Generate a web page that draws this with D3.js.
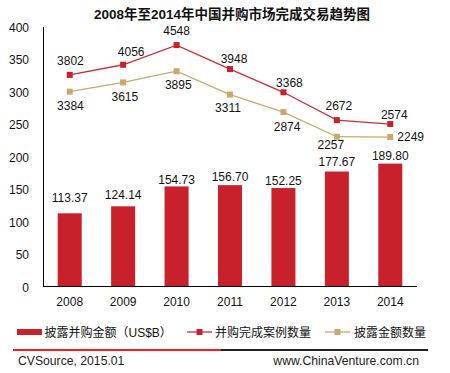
<!DOCTYPE html>
<html><head><meta charset="utf-8">
<script src="https://cdn.jsdelivr.net/npm/d3@7"></script>
<style>body{margin:0;background:#fff}svg{display:block}text{font-family:"Liberation Sans",Arial,"Noto Sans CJK SC",sans-serif;fill:#111}</style>
</head><body><svg id="c" width="450" height="373"></svg>
<script>
const years = ["2008","2009","2010","2011","2012","2013","2014"];
const amount = [113.37,124.14,154.73,156.70,152.25,177.67,189.80];
const deals = [3802,4056,4548,3948,3368,2672,2574];
const disclosed = [3384,3615,3895,3311,2874,2257,2249];
const leftTicks = [0,50,100,150,200,250,300,350,400];
const title = "2008年至2014年中国并购市场完成交易趋势图";
const legendNames = ["披露并购金额（US$B）","并购完成案例数量","披露金额数量"];

// label placement tweaks (layout only)
const barLabelDy = [-11.7,-7.2,-2.7,-3.7,-2.7,-5.7,-3.2];
const dealLabelDx = [0.7,8,0,4,6,2,4];
const dealLabelDy = [-9.7,-9,-10.2,-6.3,-5.2,-9.7,-4.7];
const discLabelDx = [0.7,1.7,1.7,-2,3.7,-6,7];
const discLabelDy = [18.3,18.7,17.3,17,19,12.3,4.3];

const RED = "#c9212b", TAN = "#c8a96b", LRED = "#d42a33";
const svg = d3.select("#c");
const x = d3.scaleBand().domain(years).range([43,417]).paddingInner(0.55).paddingOuter(0.275);
const y = d3.scaleLinear().domain([0,400]).range([287,27]);
const y2 = d3.scaleLinear().domain([-1500,5000]).range([287,27]);
const cx = d => x(d) + x.bandwidth()/2;

svg.append("text").attr("x",232).attr("y",19).attr("text-anchor","middle")
  .style("font-size","13.5px").style("font-weight","bold").text(title);

svg.append("g").selectAll("text").data(leftTicks).join("text")
  .attr("x",29).attr("y",d=>y(d)+4.5).attr("text-anchor","end").style("font-size","12px").text(d=>d);

svg.append("g").selectAll("rect").data(amount).join("rect")
  .attr("x",(d,i)=>x(years[i])).attr("width",x.bandwidth())
  .attr("y",d=>y(d)).attr("height",d=>y(0)-y(d)).attr("fill",RED);
svg.append("g").selectAll("text").data(amount).join("text")
  .attr("x",(d,i)=>cx(years[i])).attr("y",(d,i)=>y(d)+barLabelDy[i]).attr("text-anchor","middle")
  .style("font-size","12px").text(d=>d.toFixed(2));

svg.append("line").attr("x1",43.5).attr("x2",43.5).attr("y1",27).attr("y2",287).attr("stroke","#000");
svg.append("line").attr("x1",43).attr("x2",417).attr("y1",286.5).attr("y2",286.5).attr("stroke","#000");
svg.append("g").selectAll("text").data(years).join("text")
  .attr("x",d=>cx(d)).attr("y",306).attr("text-anchor","middle").style("font-size","12px").text(d=>d);

const line = (arr,ys) => d3.line().x((d,i)=>cx(years[i])).y(d=>ys(d))(arr);
svg.append("path").attr("d",line(disclosed,y2)).attr("fill","none").attr("stroke",TAN).attr("stroke-width",1.3);
svg.append("path").attr("d",line(deals,y2)).attr("fill","none").attr("stroke",LRED).attr("stroke-width",1.3);
svg.append("g").selectAll("rect").data(disclosed).join("rect")
  .attr("x",(d,i)=>cx(years[i])-3).attr("y",d=>y2(d)-3).attr("width",6).attr("height",6).attr("fill",TAN);
svg.append("g").selectAll("rect").data(deals).join("rect")
  .attr("x",(d,i)=>cx(years[i])-3).attr("y",d=>y2(d)-3).attr("width",6).attr("height",6).attr("fill",RED);

svg.append("g").selectAll("text").data(deals).join("text")
  .attr("x",(d,i)=>cx(years[i])+dealLabelDx[i]).attr("y",(d,i)=>y2(d)+dealLabelDy[i]).attr("text-anchor","middle")
  .style("font-size","12px").text(d=>d);
svg.append("g").selectAll("text").data(disclosed).join("text")
  .attr("x",(d,i)=>cx(years[i])+discLabelDx[i]).attr("y",(d,i)=>y2(d)+discLabelDy[i])
  .attr("text-anchor",(d,i)=> i===6 ? "start" : "middle")
  .style("font-size","12px").text(d=>d);

const ly = 332;
svg.append("rect").attr("x",17).attr("y",ly-3).attr("width",25).attr("height",6).attr("fill",RED);
svg.append("text").attr("x",44.5).attr("y",ly+4.5).style("font-size","12px").text(legendNames[0]);
svg.append("line").attr("x1",187).attr("x2",212).attr("y1",ly).attr("y2",ly).attr("stroke",LRED).attr("stroke-width",1.3);
svg.append("rect").attr("x",196.5).attr("y",ly-3).attr("width",6).attr("height",6).attr("fill",RED);
svg.append("text").attr("x",215).attr("y",ly+4.5).style("font-size","12px").text(legendNames[1]);
svg.append("line").attr("x1",325).attr("x2",350).attr("y1",ly).attr("y2",ly).attr("stroke",TAN).attr("stroke-width",1.3);
svg.append("rect").attr("x",334.5).attr("y",ly-3).attr("width",6).attr("height",6).attr("fill",TAN);
svg.append("text").attr("x",354).attr("y",ly+4.5).style("font-size","12px").text(legendNames[2]);

svg.append("rect").attr("x",13).attr("y",349).attr("width",208).attr("height",2).attr("fill","#ff1a1a");
svg.append("rect").attr("x",221).attr("y",349).attr("width",207).attr("height",2).attr("fill","#222");
svg.append("text").attr("x",18).attr("y",365).style("font-size","12.2px").style("fill","#222").text("CVSource, 2015.01");
svg.append("text").attr("x",419).attr("y",365).attr("text-anchor","end").style("font-size","12.2px").style("fill","#222").text("www.ChinaVenture.com.cn");
</script></body></html>
